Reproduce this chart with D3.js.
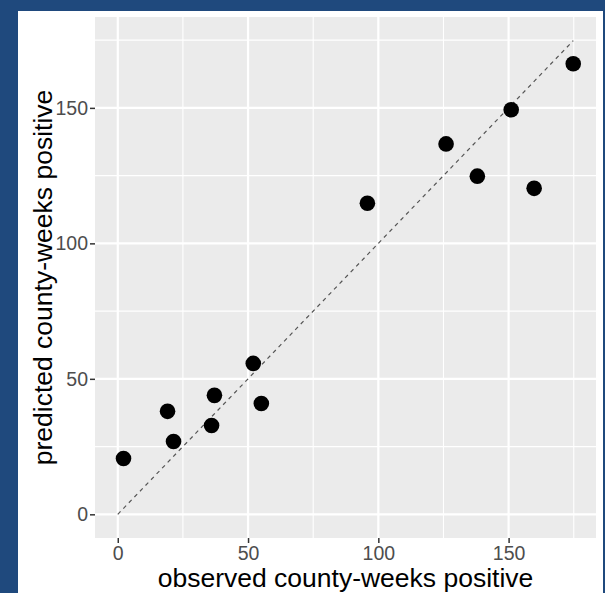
<!DOCTYPE html>
<html>
<head>
<meta charset="utf-8">
<script src="https://cdn.jsdelivr.net/npm/d3@7"></script>
<style>
  html, body { margin: 0; padding: 0; background: #1F497D; }
  svg { display: block; }
</style>
</head>
<body>
<svg id="chart" width="605" height="593"></svg>
<script>
// Data
const observed  = [2.2, 19.1, 21.4, 36.0, 37.1, 52.0, 55.1, 95.8, 126.0, 138.0, 151.0, 159.8, 174.8];
const predicted = [20.6, 38.0, 26.9, 32.8, 43.9, 55.7, 40.9, 114.8, 136.7, 124.8, 149.3, 120.3, 166.3];
const xTicks = [0, 50, 100, 150];
const yTicks = [0, 50, 100, 150];
const xMinor = [25, 75, 125, 175];
const yMinor = [25, 75, 125, 175];
const xTitle = "observed county-weeks positive";
const yTitle = "predicted county-weeks positive";

const points = observed.map((o, i) => ({ x: o, y: predicted[i] }));

const svg = d3.select("#chart");

// white card
svg.append("rect").attr("x", 18).attr("y", 11).attr("width", 585).attr("height", 582).attr("fill", "#ffffff");

const panel = { left: 95, right: 596, top: 17, bottom: 538 };

// ggplot-style expanded domains (5%)
const maxVal = d3.max([d3.max(observed), d3.max(predicted)]);
const lo = 0, hi = maxVal;
const pad = (hi - lo) * 0.05;
const x = d3.scaleLinear().domain([lo - pad, hi + pad]).range([panel.left, panel.right]);
const y = d3.scaleLinear().domain([lo - pad, hi + pad]).range([panel.bottom, panel.top]);

// panel background
svg.append("rect")
  .attr("x", panel.left).attr("y", panel.top)
  .attr("width", panel.right - panel.left).attr("height", panel.bottom - panel.top)
  .attr("fill", "#EBEBEB");

const g = svg.append("g");

// minor grid
g.selectAll(".vminor").data(xMinor.filter(v => x(v) < panel.right)).enter().append("line")
  .attr("x1", d => x(d)).attr("x2", d => x(d)).attr("y1", panel.top).attr("y2", panel.bottom)
  .attr("stroke", "#fff").attr("stroke-width", 1.1);
g.selectAll(".hminor").data(yMinor.filter(v => y(v) > panel.top)).enter().append("line")
  .attr("y1", d => y(d)).attr("y2", d => y(d)).attr("x1", panel.left).attr("x2", panel.right)
  .attr("stroke", "#fff").attr("stroke-width", 1.1);
// major grid
g.selectAll(".vmajor").data(xTicks).enter().append("line")
  .attr("x1", d => x(d)).attr("x2", d => x(d)).attr("y1", panel.top).attr("y2", panel.bottom)
  .attr("stroke", "#fff").attr("stroke-width", 2.2);
g.selectAll(".hmajor").data(yTicks).enter().append("line")
  .attr("y1", d => y(d)).attr("y2", d => y(d)).attr("x1", panel.left).attr("x2", panel.right)
  .attr("stroke", "#fff").attr("stroke-width", 2.2);

// identity dashed line
const lineMax = d3.max(observed);
g.append("path")
  .attr("d", d3.line().x(d => x(d)).y(d => y(d))([0, lineMax]))
  .attr("stroke", "#555").attr("stroke-width", 1.2).attr("stroke-dasharray", "4,4")
  .attr("fill", "none");

// points
g.selectAll("circle").data(points).enter().append("circle")
  .attr("cx", d => x(d.x)).attr("cy", d => y(d.y)).attr("r", 7.8)
  .attr("fill", "#000");

// axes
const xAxis = d3.axisBottom(x).tickValues(xTicks).tickSize(5).tickPadding(3).tickFormat(d3.format("d"));
const yAxis = d3.axisLeft(y).tickValues(yTicks).tickSize(5).tickPadding(2).tickFormat(d3.format("d"));

const xa = svg.append("g").attr("transform", `translate(0,${panel.bottom})`).call(xAxis);
const ya = svg.append("g").attr("transform", `translate(${panel.left},0)`).call(yAxis);
[xa, ya].forEach(a => {
  a.select(".domain").remove();
  a.selectAll(".tick line").attr("stroke", "#333").attr("stroke-width", 1.5);
  a.selectAll(".tick text").attr("fill", "#4D4D4D")
    .style("font-family", "Liberation Sans, Arial, sans-serif").style("font-size", "19.5px");
});

// titles
svg.append("text")
  .attr("x", (panel.left + panel.right) / 2).attr("y", 587)
  .attr("text-anchor", "middle")
  .style("font-family", "Liberation Sans, Arial, sans-serif").style("font-size", "26.5px")
  .attr("fill", "#000").text(xTitle);

svg.append("text")
  .attr("transform", `translate(52,${(panel.top + panel.bottom) / 2}) rotate(-90)`)
  .attr("text-anchor", "middle")
  .style("font-family", "Liberation Sans, Arial, sans-serif").style("font-size", "26.5px")
  .attr("fill", "#000").text(yTitle);
</script>
</body>
</html>
